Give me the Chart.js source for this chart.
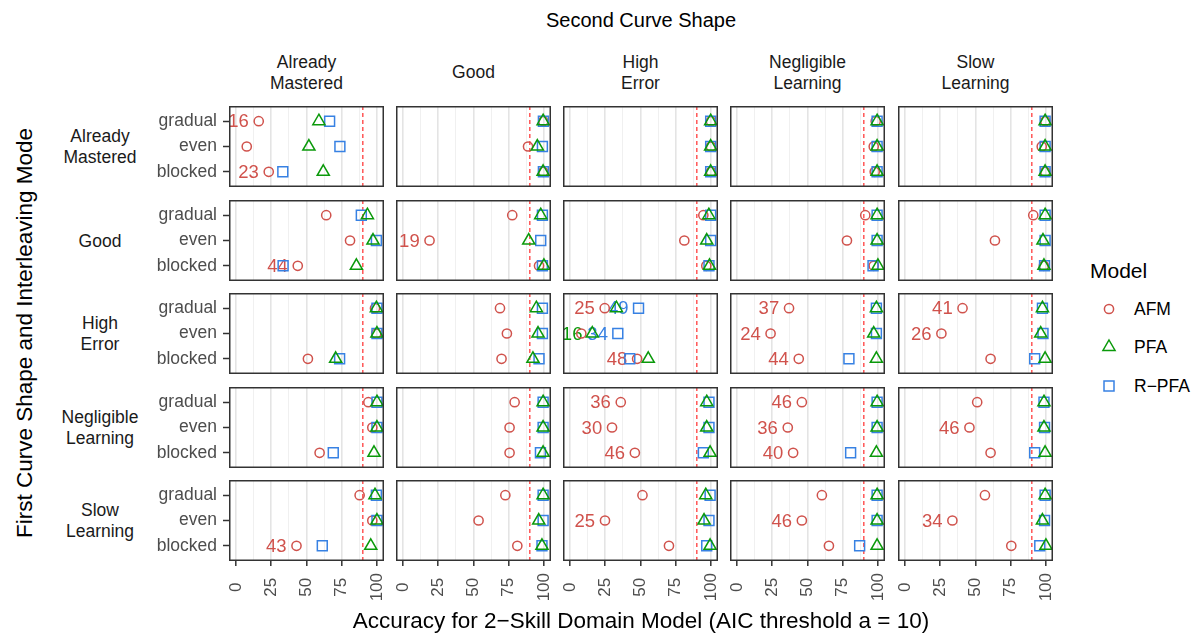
<!DOCTYPE html>
<html>
<head>
<meta charset="utf-8">
<script src="https://cdn.jsdelivr.net/npm/chart.js@4.4.1/dist/chart.umd.min.js"></script>
<style>
  body { margin: 0; background: #fff; font-family: "Liberation Sans", Arial, sans-serif; }
  #wrap { position: relative; width: 1197px; height: 637px; overflow: hidden; background: #fff; }
  #wrap canvas { position: absolute; }
  .txt { position: absolute; transform: translate(-50%, -50%); white-space: pre; text-align: center; color: #1a1a1a; }
  .strip { font-size: 17.5px; line-height: 20.5px; }
  .title { font-size: 22.5px; color: #000; }
  .leg { position: absolute; transform: translate(0, -50%); white-space: nowrap; color: #000; }
</style>
</head>
<body>
<div id="wrap"></div>
<script>
// facets and categories
const curveShapes = ['Already\nMastered', 'Good', 'High\nError', 'Negligible\nLearning', 'Slow\nLearning'];
const modes = ['gradual', 'even', 'blocked'];
const models = ['AFM', 'PFA', 'R\u2212PFA'];
const xTicks = [0, 12.5, 25, 37.5, 50, 62.5, 75, 87.5, 100];
const xTickLabels = { 0: '0', 25: '25', 50: '50', 75: '75', 100: '100' };
const threshold = 90;

// accuracy [first shape row][second shape col][gradual, even, blocked]
const afmAcc = [
  [[16.1, 7.6, 23.2], [99.5, 88.7, 99.5], [100, 100, 100], [98.4, 97, 97.7], [99.5, 97, 99.5]],
  [[64, 80.9, 43.8], [77.5, 18.8, 96.5], [94.6, 81.1, 96.7], [91, 78, 97], [91, 63.8, 98.5]],
  [[98.6, 99.5, 51], [68.8, 73.7, 69.9], [24.6, 8, 47.6], [36.9, 23.8, 43.8], [40.8, 25.8, 60.7]],
  [[93.9, 96.7, 59.3], [79.2, 75.6, 75.6], [36, 29.8, 46], [46, 36, 39.8], [51.2, 45.7, 60.7]],
  [[87.7, 96.7, 42.9], [72.6, 53.6, 81.1], [51.4, 24.8, 70.2], [60.2, 46, 65.2], [56.7, 33.6, 75.4]]
];
const pfaAcc = [
  [[58.8, 51.7, 61.9], [99.4, 95.3, 99.4], [99.8, 99.8, 99.8], [99.4, 99.4, 99.4], [99.4, 99.4, 99.4]],
  [[93.2, 97.2, 85.4], [97.7, 89.2, 100], [98.5, 97, 99], [99.4, 99.4, 100], [99.4, 97.9, 98.6]],
  [[99.6, 100, 70.7], [94.6, 95.8, 92.2], [32.9, 15.8, 55.5], [98.9, 97, 98.9], [97.5, 96.3, 99.4]],
  [[100, 100, 97.9], [99.4, 99.4, 99.4], [97, 97, 99.4], [99.4, 99.4, 98.9], [98.6, 98.6, 99.4]],
  [[98.6, 100, 95.6], [99.4, 96.3, 98.6], [96.3, 95.1, 99.4], [99.4, 99.4, 99.4], [99.4, 97.5, 100]]
];
const rpfaAcc = [
  [[66.4, 73.7, 33.2], [99.6, 98.9, 99.6], [99.8, 99.8, 99.8], [99.4, 99.4, 99.4], [99.4, 99.4, 99.4]],
  [[88.9, 99.6, 33.4], [98.9, 97.7, 98.9], [99.8, 99.8, 98.6], [99.4, 99.4, 96.5], [99.4, 99.4, 99]],
  [[100, 100, 73.5], [98.9, 98.9, 96.5], [48.6, 33.9, 42.4], [98.9, 98.9, 79.4], [97.5, 97.9, 92]],
  [[100, 100, 69], [99.4, 99.4, 97.5], [98.6, 98.6, 94.6], [99.4, 99.4, 80.6], [98.6, 99, 92]],
  [[99.6, 100, 61.2], [99.4, 99.4, 98.6], [99.4, 98.6, 97], [99.4, 99.4, 87], [99.4, 99, 95.6]]
];

// text labels: [row, col, mode index, text]
const afmLabels = [
  [0, 0, 0, '16'], [0, 0, 2, '23'], [1, 0, 2, '44'], [1, 1, 1, '19'],
  [2, 2, 0, '25'], [2, 2, 2, '48'], [2, 3, 0, '37'], [2, 3, 1, '24'], [2, 3, 2, '44'],
  [2, 4, 0, '41'], [2, 4, 1, '26'], [3, 2, 0, '36'], [3, 2, 1, '30'], [3, 2, 2, '46'],
  [3, 3, 0, '46'], [3, 3, 1, '36'], [3, 3, 2, '40'], [3, 4, 1, '46'], [4, 0, 2, '43'],
  [4, 2, 1, '25'], [4, 3, 1, '46'], [4, 4, 1, '34']
];
const pfaLabels = [[2, 2, 1, '16']];
const rpfaLabels = [[2, 2, 0, '49'], [2, 2, 1, '34']];

const colors = { AFM: '#d0524c', PFA: '#0a990a', RPFA: '#3781e3' };
const labelNudge = 7;

const panelLeft = [229, 396, 563, 730, 898];
const panelTop = [106, 200, 293, 387, 480];
const panelW = 155, panelH = 81;
const yAxisW = 90, xAxisH = 52;

Chart.defaults.font.family = '"Liberation Sans", Arial, sans-serif';

const wrap = document.getElementById('wrap');

const addText = (html, x, y, cls, style) => {
  const d = document.createElement('div');
  d.className = cls;
  d.style.left = x + 'px';
  d.style.top = y + 'px';
  if (style) d.style.cssText += style;
  d.textContent = html;
  wrap.appendChild(d);
};

// pad short tick labels so rotated text looks centred under the tick
const padLabel = s => s + (s.length === 1 ? '\u2007' : s.length === 2 ? '\u2008' : '');

const panelDecor = {
  id: 'panelDecor',
  beforeDatasetsDraw(chart, args, opts) {
    const { ctx, chartArea: a, scales: { x, y } } = chart;
    ctx.save();
    ctx.beginPath();
    ctx.rect(a.left, a.top, a.right - a.left, a.bottom - a.top);
    ctx.clip();
    ctx.font = '18.5px "Liberation Sans", Arial, sans-serif';
    ctx.textAlign = 'right';
    ctx.textBaseline = 'middle';
    opts.labels.forEach(l => {
      ctx.fillStyle = l.color;
      ctx.fillText(l.text, x.getPixelForValue(l.x - labelNudge), y.getPixelForValue(l.y) + 1);
    });
    ctx.restore();
  },
  afterDraw(chart) {
    const { ctx, chartArea: a } = chart;
    ctx.save();
    ctx.strokeStyle = '#333333';
    ctx.lineWidth = 1.5;
    ctx.strokeRect(a.left + 0.75, a.top + 0.75, a.right - a.left - 1.5, a.bottom - a.top - 1.5);
    ctx.restore();
  }
};

const pointSet = (label, vals, style, radius, color) => ({
  label,
  data: vals.map((v, i) => ({ x: v, y: i + 1 })),
  pointStyle: style,
  pointRadius: radius,
  pointBorderWidth: 1.5,
  pointBorderColor: color,
  pointBackgroundColor: 'rgba(0,0,0,0)',
  borderColor: color,
  backgroundColor: 'rgba(0,0,0,0)',
  showLine: false
});

const labelsFor = (list, r, c, acc, color) =>
  list.filter(l => l[0] === r && l[1] === c)
      .map(l => ({ x: acc[r][c][l[2]], y: l[2] + 1, text: l[3], color }));

for (let r = 0; r < 5; r++) {
  for (let c = 0; c < 5; c++) {
    const isLeft = c === 0, isBottom = r === 4;
    const cv = document.createElement('canvas');
    const w = panelW + (isLeft ? yAxisW : 0);
    const h = panelH + (isBottom ? xAxisH : 0);
    cv.width = w; cv.height = h;
    cv.style.left = (panelLeft[c] - (isLeft ? yAxisW : 0)) + 'px';
    cv.style.top = panelTop[r] + 'px';
    cv.style.width = w + 'px'; cv.style.height = h + 'px';
    wrap.appendChild(cv);

    const labels = [
      ...labelsFor(afmLabels, r, c, afmAcc, colors.AFM),
      ...labelsFor(pfaLabels, r, c, pfaAcc, colors.PFA),
      ...labelsFor(rpfaLabels, r, c, rpfaAcc, colors.RPFA)
    ];

    new Chart(cv, {
      type: 'scatter',
      data: {
        datasets: [
          pointSet('PFA', pfaAcc[r][c], 'triangle', 7, colors.PFA),
          pointSet('R-PFA', rpfaAcc[r][c], 'rect', 7, colors.RPFA),
          pointSet('AFM', afmAcc[r][c], 'circle', 4.6, colors.AFM),
          {
            type: 'line',
            label: 'threshold',
            data: [{ x: threshold, y: 0.4 }, { x: threshold, y: 3.6 }],
            borderColor: '#ff0000',
            borderWidth: 1,
            borderDash: [4, 3],
            pointRadius: 0,
            showLine: true
          }
        ]
      },
      options: {
        responsive: false,
        animation: false,
        events: [],
        devicePixelRatio: 1,
        layout: { padding: 0, autoPadding: false },
        plugins: {
          legend: { display: false },
          tooltip: { enabled: false },
          panelDecor: { labels }
        },
        scales: {
          x: {
            type: 'linear', min: -5, max: 105,
            afterBuildTicks: s => { s.ticks = xTicks.map(v => ({ value: v })); },
            afterFit: s => { s.height = isBottom ? xAxisH : 0; s.paddingLeft = 0; s.paddingRight = 0; },
            border: { display: false },
            grid: {
              color: ctx => (ctx.tick && ctx.tick.value % 25 === 0) ? '#e4e4e4' : '#f0f0f0',
              lineWidth: ctx => (ctx.tick && ctx.tick.value % 25 === 0) ? 1.6 : 1,
              drawTicks: isBottom,
              tickLength: 5,
              tickWidth: 1.5,
              tickColor: ctx => (ctx.tick && ctx.tick.value % 25 === 0) ? '#333333' : 'rgba(0,0,0,0)'
            },
            ticks: {
              display: isBottom,
              autoSkip: false,
              minRotation: 90, maxRotation: 90,
              padding: 7,
              color: '#4d4d4d',
              font: { size: 17 },
              callback: v => xTickLabels[v] !== undefined ? padLabel(xTickLabels[v]) : ''
            }
          },
          y: {
            type: 'linear', min: 0.4, max: 3.6, reverse: true,
            display: isLeft,
            afterBuildTicks: s => { s.ticks = [1, 2, 3].map(v => ({ value: v })); },
            afterFit: s => { s.width = isLeft ? yAxisW : 0; s.paddingTop = 0; s.paddingBottom = 0; },
            border: { display: false },
            grid: { drawOnChartArea: false, drawTicks: true, tickLength: 6, tickWidth: 1.5, tickColor: '#333333' },
            ticks: {
              padding: 6,
              color: '#4d4d4d',
              font: { size: 17.5 },
              callback: v => modes[v - 1]
            }
          }
        }
      },
      plugins: [panelDecor]
    });
  }
}

// strip labels
curveShapes.forEach((s, c) => addText(s, panelLeft[c] + panelW / 2, 72, 'txt strip'));
curveShapes.forEach((s, r) => addText(s, 100, panelTop[r] + panelH / 2, 'txt strip', 'line-height:21px'));

// titles
addText('Second Curve Shape', 641, 20, 'txt title', 'font-size:20px');
addText('Accuracy for 2\u2212Skill Domain Model (AIC threshold a = 10)', 641, 621, 'txt title');
addText('First Curve Shape and Interleaving Mode', 25, 333, 'txt title', 'transform:translate(-50%,-50%) rotate(-90deg)');

// legend
addText('Model', 1090, 271, 'leg', 'font-size:21px');
const legendY = [309, 347, 386];
const legendSvg = [
  `<circle cx="11" cy="11" r="4.6" fill="none" stroke="${colors.AFM}" stroke-width="1.5"/>`,
  `<polygon points="11,4 17.06,14.5 4.94,14.5" fill="none" stroke="${colors.PFA}" stroke-width="1.5"/>`,
  `<rect x="6" y="6" width="10" height="10" fill="none" stroke="${colors.RPFA}" stroke-width="1.5"/>`
];
models.forEach((m, i) => {
  const s = document.createElement('div');
  s.style.cssText = `position:absolute;left:${1109 - 11}px;top:${legendY[i] - 11}px;width:22px;height:22px`;
  s.innerHTML = `<svg width="22" height="22">${legendSvg[i]}</svg>`;
  wrap.appendChild(s);
  addText(m, 1134, legendY[i], 'leg', 'font-size:17.5px');
});
</script>
</body>
</html>
